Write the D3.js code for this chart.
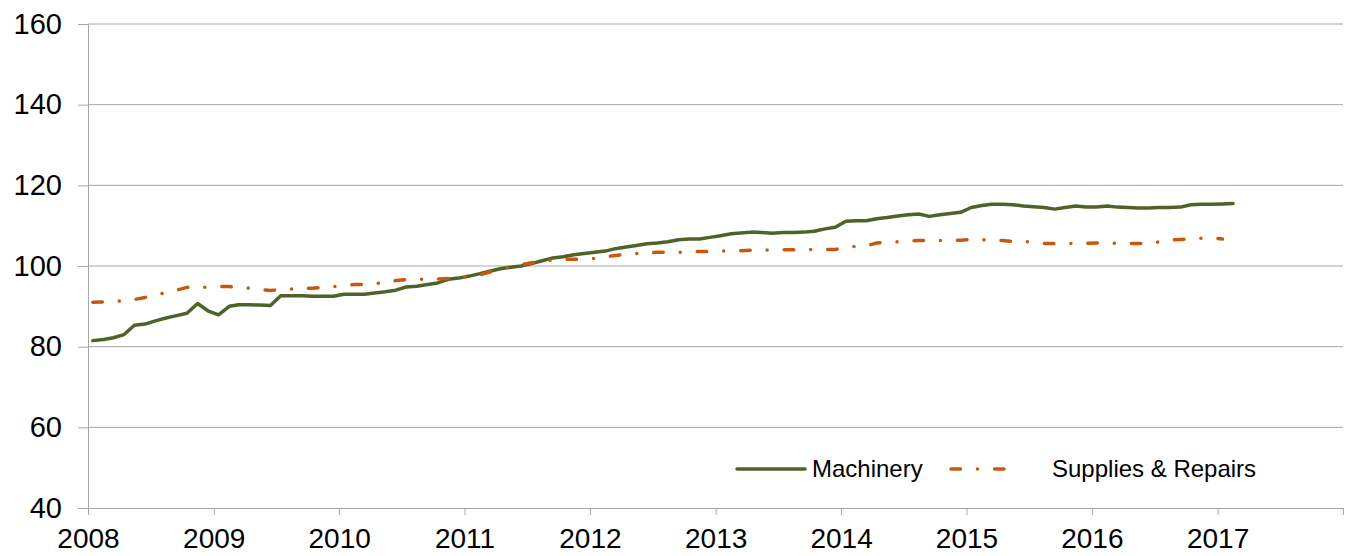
<!DOCTYPE html>
<html>
<head>
<meta charset="utf-8">
<script src="https://cdn.jsdelivr.net/npm/d3@7"></script>
<style>
  body { margin: 0; background: #fff; }
  svg { display: block; font-family: "Liberation Sans", Arial, sans-serif; }
</style>
</head>
<body>
<div id="chart"></div>
<script>
// monthly index values, Jan 2008 onwards
const machinery = [
  81.5, 81.8, 82.2, 83.0, 85.3, 85.6, 86.4, 87.1, 87.7, 88.3, 90.7, 88.9,
  87.9, 90.0, 90.4, 90.4, 90.3, 90.2, 92.6, 92.6, 92.6, 92.5, 92.5, 92.5,
  93.0, 93.0, 93.0, 93.3, 93.6, 94.0, 94.8, 95.0, 95.4, 95.8, 96.7, 97.0,
  97.5, 98.1, 98.7, 99.3, 99.7, 100.0, 100.6, 101.3, 102.0, 102.3, 102.8, 103.1,
  103.4, 103.7, 104.3, 104.7, 105.1, 105.5, 105.7, 106.0, 106.5, 106.7, 106.7, 107.1,
  107.5, 108.0, 108.2, 108.4, 108.3, 108.1, 108.3, 108.3, 108.4, 108.6, 109.2, 109.6,
  111.1, 111.2, 111.2, 111.7, 112.0, 112.4, 112.7, 112.9, 112.3, 112.7, 113.0, 113.3,
  114.5, 115.0, 115.3, 115.3, 115.2, 114.9, 114.7, 114.5, 114.1, 114.5, 114.9, 114.6,
  114.6, 114.9, 114.6, 114.5, 114.4, 114.4, 114.5, 114.5, 114.6, 115.2, 115.3, 115.3,
  115.4, 115.5
];
const supplies = [
  91.0, 91.1, 91.2, 91.4, 91.7, 92.2, 92.8, 93.4, 94.0, 94.7, 94.8, 94.7,
  94.9, 94.9, 94.7, 94.5, 94.2, 93.9, 94.2, 94.3, 94.4, 94.5, 94.7, 94.9,
  95.1, 95.4, 95.4, 95.6, 96.0, 96.4, 96.6, 96.7, 96.7, 96.8, 96.9, 96.9,
  97.5, 97.8, 98.5, 99.1, 99.8, 100.3, 100.8, 101.2, 101.5, 101.7, 101.7, 101.7,
  101.9, 102.3, 102.6, 102.9, 103.1, 103.2, 103.4, 103.4, 103.4, 103.6, 103.6, 103.6,
  103.7, 103.7, 103.8, 103.9, 103.9, 104.0, 104.0, 104.0, 104.1, 104.1, 104.1, 104.1,
  104.6, 104.9, 105.0, 105.7, 105.9, 106.0, 106.2, 106.3, 106.3, 106.3, 106.3, 106.4,
  106.6, 106.5, 106.4, 106.3, 106.1, 106.1, 105.9, 105.6, 105.6, 105.6, 105.6, 105.6,
  105.7, 105.8, 105.6, 105.6, 105.6, 105.5, 106.0, 106.4, 106.6, 106.7, 106.9, 107.0,
  106.7
];
const seriesNames = ["Machinery", "Supplies & Repairs"];
const yTicks = [40, 60, 80, 100, 120, 140, 160];
const yearTicks = [2008, 2009, 2010, 2011, 2012, 2013, 2014, 2015, 2016, 2017, 2018];

const W = 1345, H = 556;
const margin = {top: 24, right: 2, bottom: 48, left: 88};
const width = W - margin.left - margin.right,
      height = H - margin.top - margin.bottom;

const monthDate = i => new Date(2008, i, 15);

const x = d3.scaleTime()
    .domain([new Date(2008, 0, 1), new Date(2018, 0, 1)])
    .range([0, width]);
const y = d3.scaleLinear().domain([40, 160]).range([height, 0]);

const svg = d3.select("#chart").append("svg")
    .attr("width", W).attr("height", H);
const g = svg.append("g")
    .attr("transform", "translate(" + margin.left + "," + margin.top + ")");

// horizontal grid
g.append("g")
    .selectAll("line")
    .data(yTicks.filter(t => t > 40))
    .enter().append("line")
    .attr("x1", 0).attr("x2", width)
    .attr("y1", d => y(d)).attr("y2", d => y(d))
    .attr("stroke", "#a6a6a6").attr("stroke-width", 1);

// y axis
const yAxis = g.append("g")
    .call(d3.axisLeft(y).tickValues(yTicks).tickSize(10).tickPadding(16));
yAxis.select(".domain").attr("stroke", "#a6a6a6");
yAxis.selectAll(".tick line").attr("stroke", "#a6a6a6");
yAxis.selectAll("text").attr("font-size", 29).attr("fill", "#000")
    .attr("font-family", "Liberation Sans, Arial, sans-serif");

// x axis
const xAxis = g.append("g")
    .attr("transform", "translate(0," + height + ")")
    .call(d3.axisBottom(x)
      .tickValues(yearTicks.map(yr => new Date(yr, 0, 1)))
      .tickFormat(d => d.getFullYear() < 2018 ? d.getFullYear() : "")
      .tickSize(7).tickSizeOuter(0).tickPadding(13));
xAxis.select(".domain").attr("stroke", "#a6a6a6");
xAxis.selectAll(".tick line").attr("stroke", "#a6a6a6");
xAxis.selectAll("text").attr("font-size", 28).attr("fill", "#000")
    .attr("font-family", "Liberation Sans, Arial, sans-serif");

const line = d3.line()
    .x((d, i) => x(monthDate(i)))
    .y(d => y(d));

g.append("path")
    .datum(machinery)
    .attr("d", line)
    .attr("fill", "none")
    .attr("stroke", "#4f6228")
    .attr("stroke-width", 3.5)
    .attr("stroke-linejoin", "round")
    .attr("stroke-linecap", "round");

g.append("path")
    .datum(supplies)
    .attr("d", line)
    .attr("fill", "none")
    .attr("stroke", "#c65911")
    .attr("stroke-width", 3.5)
    .attr("stroke-linejoin", "round")
    .attr("stroke-linecap", "round")
    .attr("stroke-dasharray", "9.5,17,0.01,17");

// legend
const legend = svg.append("g").attr("transform", "translate(0,469)");
legend.append("line")
    .attr("x1", 737).attr("x2", 805).attr("y1", 0).attr("y2", 0)
    .attr("stroke", "#4f6228").attr("stroke-width", 3.5)
    .attr("stroke-linecap", "round");
legend.append("text")
    .attr("x", 812).attr("y", 8)
    .attr("font-size", 24)
    .text(seriesNames[0]);
legend.append("line")
    .attr("x1", 951).attr("x2", 1004).attr("y1", 0).attr("y2", 0)
    .attr("stroke", "#c65911").attr("stroke-width", 3.5)
    .attr("stroke-linecap", "round")
    .attr("stroke-dasharray", "9.5,17,0.01,17");
legend.append("text")
    .attr("x", 1052).attr("y", 8)
    .attr("font-size", 24)
    .text(seriesNames[1]);
</script>
</body>
</html>
